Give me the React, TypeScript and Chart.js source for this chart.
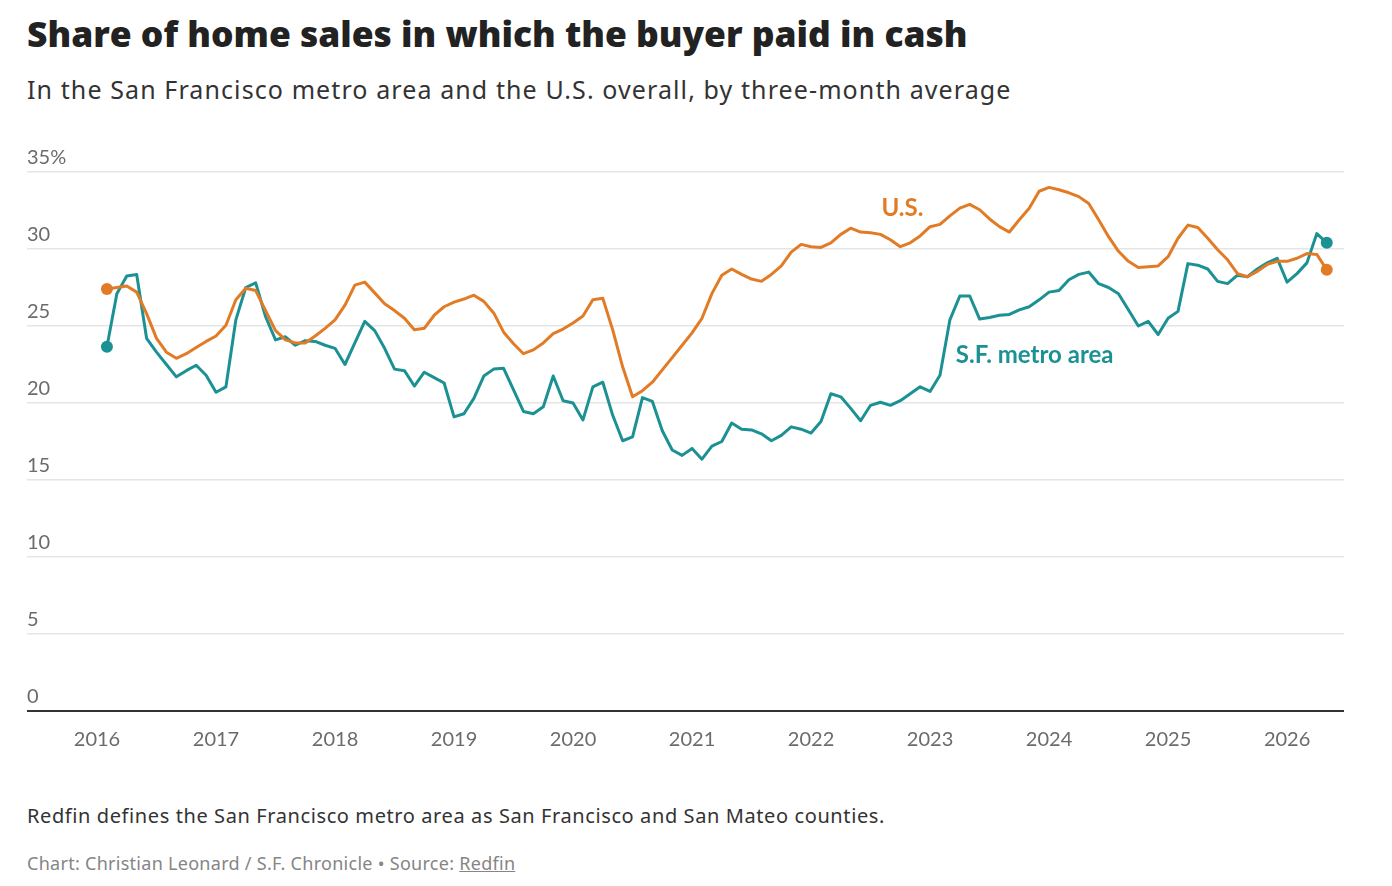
import React, { useEffect, useRef } from "react";
import { Chart, registerables } from "chart.js";

Chart.register(...registerables);

// Months are counted from January 2016 (= 0); the first reading is February 2016.
const firstMonthIndex = 1;
const yearLabels = ["2016", "2017", "2018", "2019", "2020", "2021", "2022", "2023", "2024", "2025", "2026"];
const yTickValues = [0, 5, 10, 15, 20, 25, 30, 35];
const seriesNames = ["U.S.", "S.F. metro area"];

const usValues = [
  27.4, 27.5, 27.6, 27.2, 25.8, 24.2, 23.3, 22.9, 23.2, 23.6, 24.0, 24.35,
  25.05, 26.7, 27.45, 27.3, 26.0, 24.7, 24.1, 23.9, 23.9, 24.35, 24.85, 25.4,
  26.35, 27.65, 27.85, 27.15, 26.45, 26.0, 25.5, 24.75, 24.85, 25.7, 26.25, 26.55,
  26.75, 27.0, 26.6, 25.85, 24.6, 23.85, 23.2, 23.45, 23.9, 24.5, 24.8, 25.2,
  25.65, 26.7, 26.8, 24.75, 22.35, 20.4, 20.8, 21.35, 22.15, 22.95, 23.75, 24.55,
  25.5, 27.1, 28.3, 28.7, 28.35, 28.05, 27.9, 28.35, 28.9, 29.8, 30.3, 30.15,
  30.1, 30.4, 30.95, 31.35, 31.1, 31.05, 30.95, 30.6, 30.15, 30.4, 30.85, 31.45,
  31.6, 32.15, 32.65, 32.9, 32.55, 31.95, 31.45, 31.1, 31.9, 32.65, 33.75, 34.0,
  33.85, 33.65, 33.4, 32.95, 31.9, 30.8, 29.85, 29.2, 28.8, 28.85, 28.9, 29.5,
  30.7, 31.55, 31.4, 30.7, 29.95, 29.3, 28.4, 28.2, 28.55, 29.0, 29.2, 29.2,
  29.4, 29.7, 29.65, 28.65,
];

const sfValues = [
  23.65, 27.1, 28.25, 28.35, 24.2, 23.3, 22.5, 21.7, 22.1, 22.45, 21.8, 20.7,
  21.05, 25.4, 27.5, 27.8, 25.6, 24.1, 24.3, 23.75, 24.05, 24.0, 23.75, 23.55,
  22.5, 23.9, 25.3, 24.7, 23.55, 22.2, 22.1, 21.1, 22.0, 21.65, 21.3, 19.1,
  19.3, 20.3, 21.75, 22.2, 22.25, 20.85, 19.45, 19.3, 19.75, 21.75, 20.15, 20.0,
  18.9, 21.05, 21.35, 19.2, 17.55, 17.8, 20.35, 20.1, 18.2, 16.95, 16.6, 17.05,
  16.35, 17.2, 17.5, 18.7, 18.3, 18.25, 18.0, 17.55, 17.9, 18.45, 18.3, 18.05,
  18.8, 20.6, 20.4, 19.65, 18.85, 19.85, 20.05, 19.85, 20.15, 20.6, 21.05, 20.75,
  21.8, 25.4, 26.95, 26.95, 25.45, 25.55, 25.7, 25.75, 26.05, 26.25, 26.7, 27.2,
  27.3, 28.0, 28.35, 28.5, 27.75, 27.5, 27.1, 26.05, 25.0, 25.3, 24.45, 25.5,
  25.95, 29.05, 28.95, 28.7, 27.9, 27.75, 28.3, 28.2, 28.7, 29.1, 29.4, 27.85,
  28.4, 29.1, 31.0, 30.4,
];

// Where the direct series labels sit, in data units (month index, percent).
const usLabelAnchor = { x: 79.1, y: 32.65 };
const sfLabelAnchor = { x: 86.6, y: 23.1 };

const US_COLOR = "#E27B26";
const SF_COLOR = "#1B9194";

function toPoints(values: number[]) {
  return values.map((v, i) => ({ x: i + firstMonthIndex, y: v }));
}

const endDot = (ctx: any) => {
  const n = ctx.dataset.data.length;
  return ctx.dataIndex === 0 || ctx.dataIndex === n - 1 ? 6 : 0;
};

const textPlugin = {
  id: "customText",
  afterDraw(chart: any) {
    const ctx = chart.ctx;
    const ys = chart.scales.y;
    const xs = chart.scales.x;
    ctx.save();
    ctx.font = "20px Lato";
    ctx.fillStyle = "#6b6b6b";
    ctx.textAlign = "left";
    ctx.textBaseline = "alphabetic";
    yTickValues.forEach((v) => {
      const label = v === 35 ? "35%" : String(v);
      ctx.fillText(label, chart.chartArea.left, ys.getPixelForValue(v) - 8);
    });
    ctx.font = "bold 24px Lato";
    ctx.textBaseline = "middle";
    ctx.fillStyle = US_COLOR;
    ctx.fillText(seriesNames[0], xs.getPixelForValue(usLabelAnchor.x), ys.getPixelForValue(usLabelAnchor.y));
    ctx.fillStyle = SF_COLOR;
    ctx.fillText(seriesNames[1], xs.getPixelForValue(sfLabelAnchor.x), ys.getPixelForValue(sfLabelAnchor.y));
    ctx.restore();
  },
};

function ChartCanvas() {
  const ref = useRef<HTMLCanvasElement | null>(null);
  useEffect(() => {
    if (!ref.current) return;
    const chart = new Chart(ref.current, {
      type: "line",
      data: {
        datasets: [
          {
            label: seriesNames[0],
            data: toPoints(usValues),
            borderColor: US_COLOR,
            backgroundColor: US_COLOR,
            borderWidth: 3,
            pointRadius: endDot,
            pointBorderWidth: 0,
            tension: 0,
            borderJoinStyle: "round",
          },
          {
            label: seriesNames[1],
            data: toPoints(sfValues),
            borderColor: SF_COLOR,
            backgroundColor: SF_COLOR,
            borderWidth: 3,
            pointRadius: endDot,
            pointBorderWidth: 0,
            tension: 0,
            borderJoinStyle: "round",
          },
        ],
      },
      options: {
        responsive: false,
        maintainAspectRatio: false,
        animation: false,
        layout: { padding: { left: 27, right: 48, top: 52, bottom: 0 } },
        plugins: { legend: { display: false }, tooltip: { enabled: false } },
        scales: {
          x: {
            type: "linear",
            min: -7.06,
            max: 125.74,
            grid: { display: false },
            border: { display: false },
            afterBuildTicks: (s: any) => {
              s.ticks = yearLabels.map((_, k) => ({ value: k * 12 }));
            },
            afterFit: (s: any) => {
              s.height = 69;
            },
            ticks: {
              autoSkip: false,
              maxRotation: 0,
              padding: 9,
              color: "#6b6b6b",
              font: { family: "Lato", size: 20 },
              callback: (v: any) => yearLabels[Math.round(Number(v) / 12)] ?? "",
            },
          },
          y: {
            min: 0,
            max: 35,
            afterBuildTicks: (s: any) => {
              s.ticks = yTickValues.map((v) => ({ value: v }));
            },
            afterFit: (s: any) => {
              s.width = 0;
            },
            ticks: { display: false },
            border: { display: false },
            grid: {
              drawTicks: false,
              color: (c: any) => (c.tick && c.tick.value === 0 ? "#333333" : "#e5e5e5"),
              lineWidth: (c: any) => (c.tick && c.tick.value === 0 ? 2 : 1.5),
            },
          },
        },
      },
      plugins: [textPlugin],
    } as any);
    return () => chart.destroy();
  }, []);
  return (
    <canvas
      ref={ref}
      width={1392}
      height={660}
      style={{ position: "absolute", left: 0, top: 120, width: 1392, height: 660 }}
    />
  );
}

export default function App() {
  return (
    <div style={{ position: "absolute", left: 0, top: 0, width: 1392, height: 886, background: "#fff", overflow: "hidden" }}>
      <div
        style={{
          position: "absolute",
          left: 27,
          top: 11,
          fontFamily: "'Open Sans'",
          fontWeight: 800,
          fontSize: 35.4,
          lineHeight: "44px",
          color: "#222",
          whiteSpace: "nowrap",
        }}
      >
        Share of home sales in which the buyer paid in cash
      </div>
      <div
        style={{
          position: "absolute",
          left: 27,
          top: 72,
          fontFamily: "'Noto Sans'",
          fontSize: 25,
          letterSpacing: "1.1px",
          lineHeight: "34px",
          color: "#333",
          whiteSpace: "nowrap",
        }}
      >
        In the San Francisco metro area and the U.S. overall, by three-month average
      </div>
      <ChartCanvas />
      <div
        style={{
          position: "absolute",
          left: 27,
          top: 803,
          fontFamily: "'Noto Sans'",
          fontSize: 20,
          letterSpacing: "0.6px",
          lineHeight: "26px",
          color: "#333",
          whiteSpace: "nowrap",
        }}
      >
        Redfin defines the San Francisco metro area as San Francisco and San Mateo counties.
      </div>
      <div
        style={{
          position: "absolute",
          left: 27,
          top: 852,
          fontFamily: "'Noto Sans'",
          fontSize: 18,
          letterSpacing: "0.28px",
          lineHeight: "22px",
          color: "#858585",
          whiteSpace: "nowrap",
        }}
      >
        Chart: Christian Leonard / S.F. Chronicle • Source: <span style={{ textDecoration: "underline" }}>Redfin</span>
      </div>
    </div>
  );
}
